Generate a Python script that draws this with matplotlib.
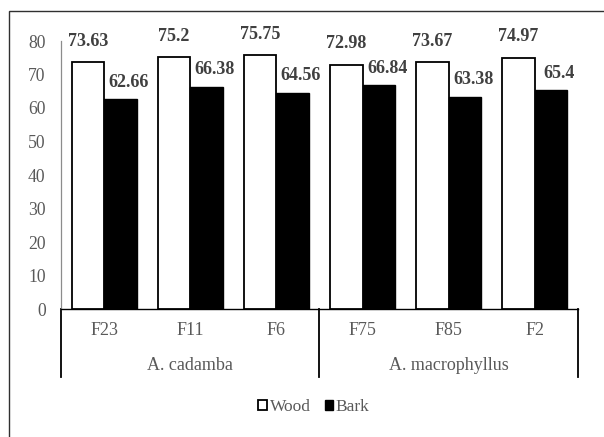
import numpy as np
import matplotlib
matplotlib.use("Agg")
import matplotlib.pyplot as plt
import matplotlib.transforms as mtransforms
from matplotlib.patches import Rectangle

plt.rcParams['font.family'] = ['Liberation Serif', 'DejaVu Serif']

samples = ["F23", "F11", "F6", "F75", "F85", "F2"]
species = ["A. cadamba", "A. macrophyllus"]
wood = [73.63, 75.2, 75.75, 72.98, 73.67, 74.97]
bark = [62.66, 66.38, 64.56, 66.84, 63.38, 65.4]
wood_lbl = ["73.63", "75.2", "75.75", "72.98", "73.67", "74.97"]
bark_lbl = ["62.66", "66.38", "64.56", "66.84", "63.38", "65.4"]

W, H = 604, 437
fig = plt.figure(figsize=(W/100, H/100), dpi=100)
ax = fig.add_axes([61/W, 1-309/H, (578-61)/W, (309-41)/H])

x = np.arange(len(samples))
bw = 0.377
ax.bar(x - bw/2, wood, bw, color="white", edgecolor="black", linewidth=1.3, label="Wood", zorder=3)
ax.bar(x + bw/2, bark, bw, color="black", edgecolor="black", linewidth=1.0, label="Bark", zorder=3)

lblc = "#404040"
txtc = "#595959"
for i in range(len(samples)):
    ax.annotate(wood_lbl[i], (x[i] - bw/2, wood[i]), xytext=(0, 9), textcoords="offset points",
                ha="center", va="bottom", fontsize=13, fontweight="bold", color=lblc)
    ax.annotate(bark_lbl[i], (x[i] + bw/2, bark[i]), xytext=(6, 6), textcoords="offset points",
                ha="center", va="bottom", fontsize=13, fontweight="bold", color=lblc)

ax.set_xlim(-0.5, len(samples) - 0.5)
ax.set_ylim(0, 80)
ax.set_yticks(range(0, 81, 10))
ax.set_xticks([])
ax.tick_params(axis="y", length=0, pad=11, labelsize=12.7, labelcolor=txtc)
for s in ["top", "right"]:
    ax.spines[s].set_visible(False)
ax.spines["left"].set_color("#8c8c8c")
ax.spines["left"].set_linewidth(0.9)
ax.spines["bottom"].set_color("black")
ax.spines["bottom"].set_linewidth(1.0)

trans = mtransforms.blended_transform_factory(ax.transData, ax.transAxes)
for xd in [-0.5, 2.5, 5.5]:
    ax.plot([xd, xd], [0, -0.254], color="black", linewidth=1.3, transform=trans, clip_on=False)
for i, s in enumerate(samples):
    ax.text(x[i], -0.082, s, transform=trans, ha="center", va="center", fontsize=13, color=txtc)
for g, sp in enumerate(species):
    ax.text(g*3 + 1, -0.21, sp, transform=trans, ha="center", va="center", fontsize=13, color=txtc)

fig.legend(loc="center", bbox_to_anchor=(314/W, 1-407/H), ncol=2, frameon=False, fontsize=12.5,
           handlelength=0.5, handleheight=0.5, handletextpad=0.15, columnspacing=0.8,
           labelcolor=txtc)

fig.add_artist(Rectangle((9/W, -0.1), 2, 1.1 - 11/H, transform=fig.transFigure,
                         fill=False, edgecolor="#303030", linewidth=1.0))

fig.savefig("out.png", dpi=100, facecolor="white")
